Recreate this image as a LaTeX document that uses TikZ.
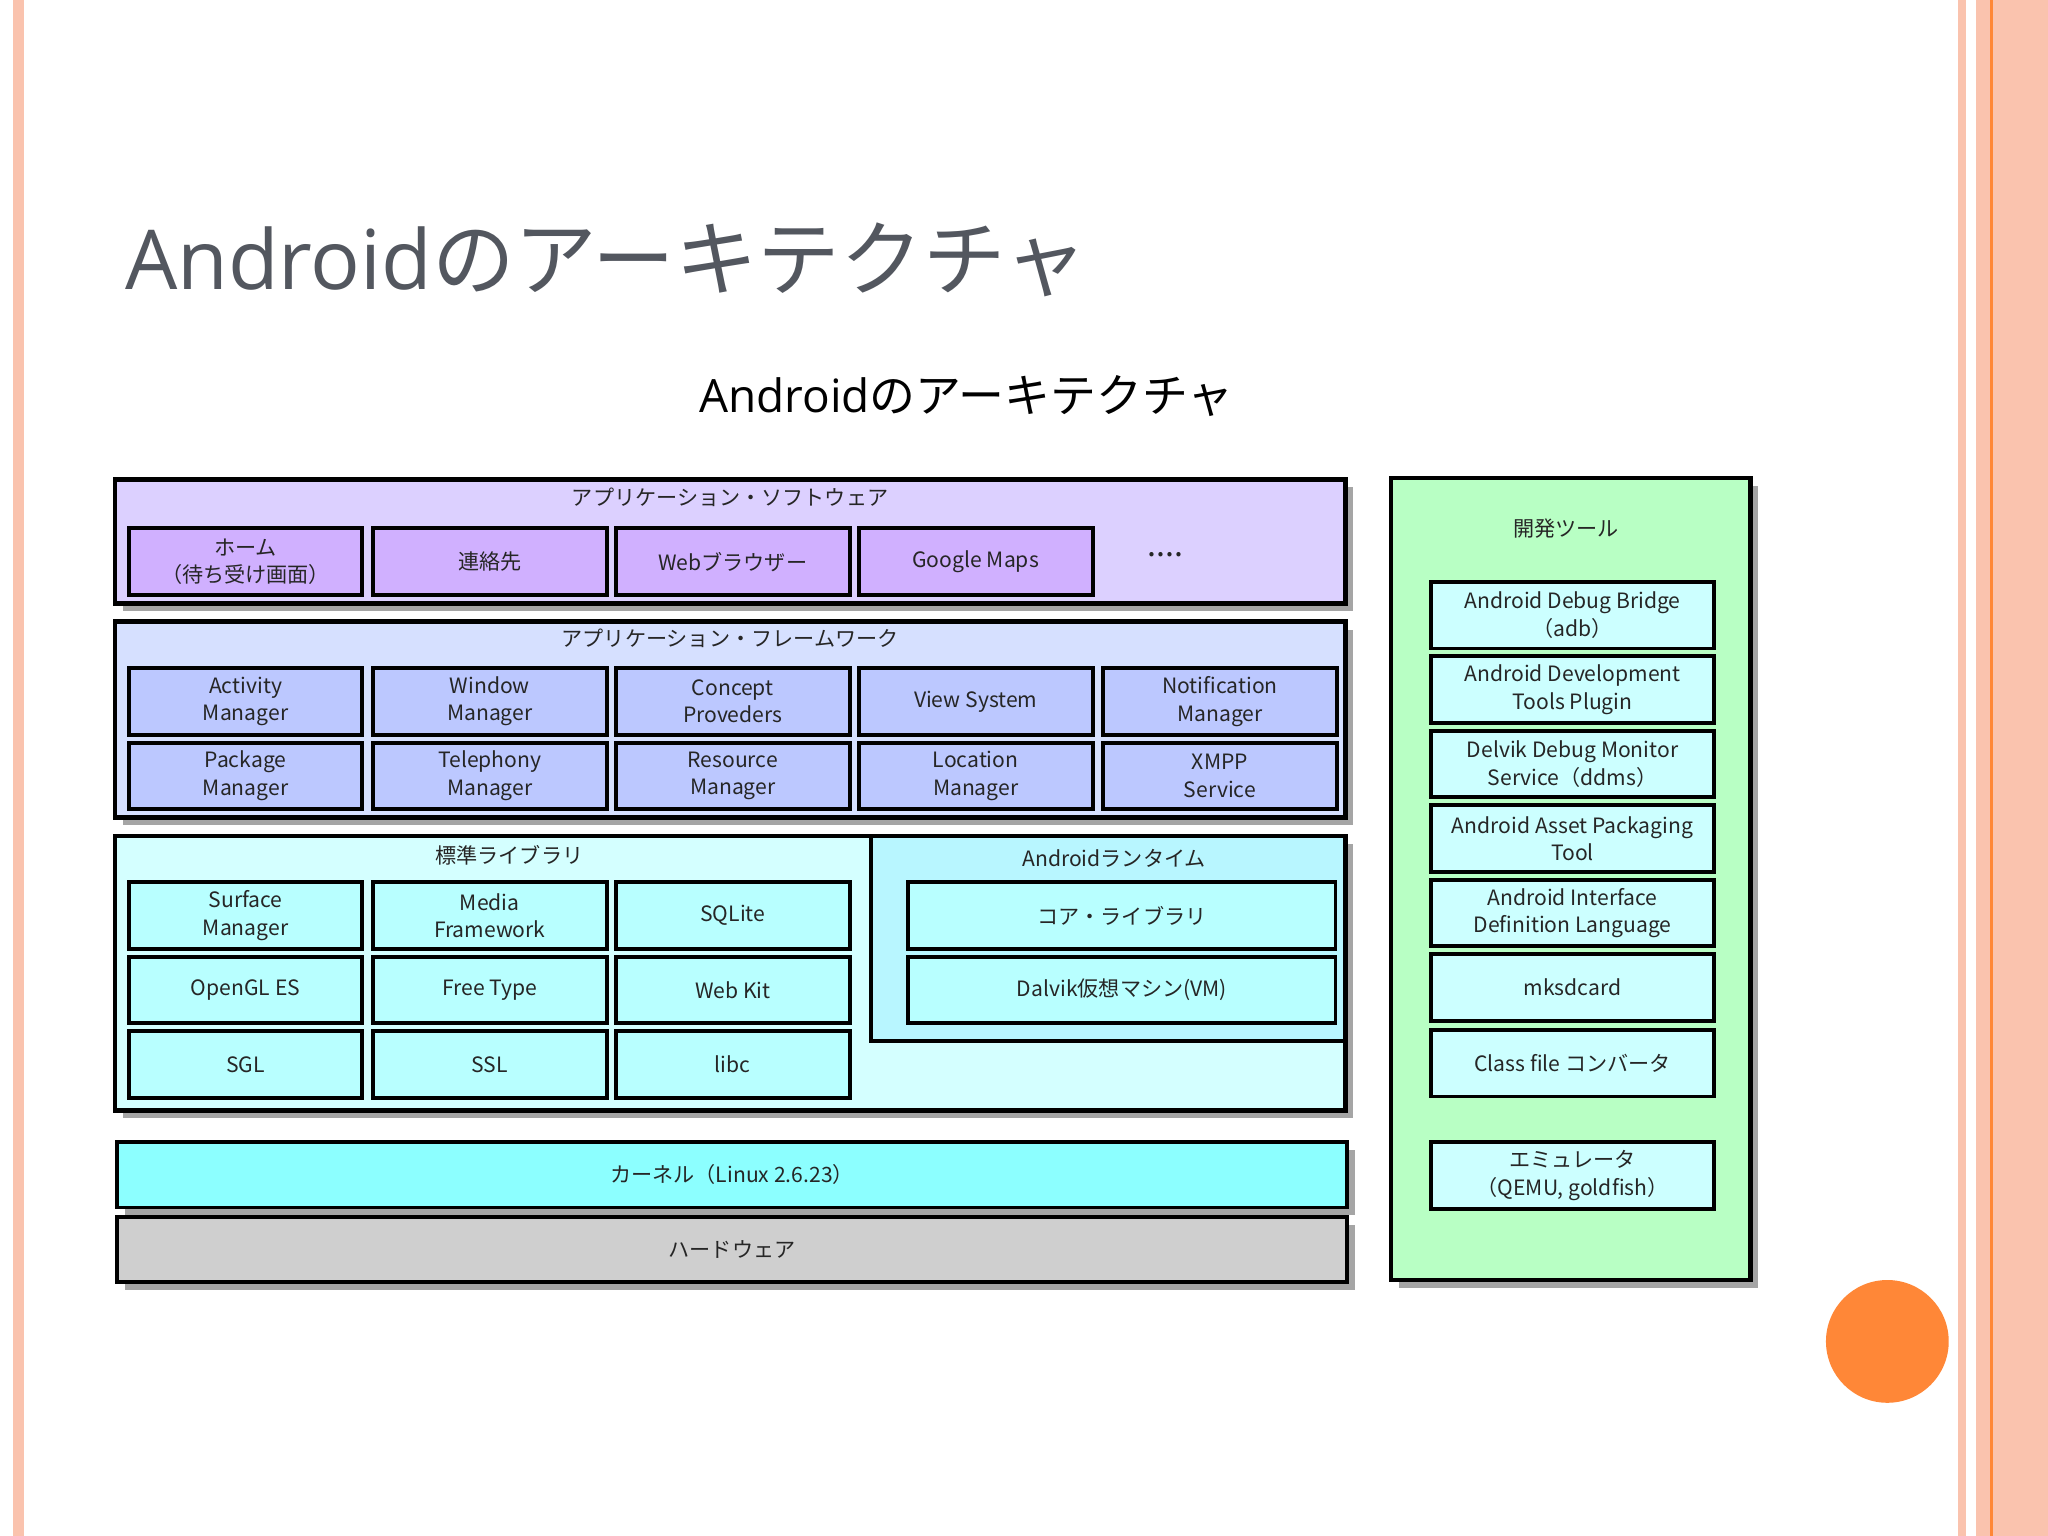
\documentclass[tikz,border=0pt]{standalone}
\usepackage{fontspec}
\setmainfont{Noto Sans CJK JP}
\newfontfamily\latinsans{Open Sans}
\usetikzlibrary{positioning,shadows}

\definecolor{stripe}{HTML}{FAC3AE}
\definecolor{dot}{HTML}{FF8737}
\definecolor{titlegray}{HTML}{53575F}
\definecolor{softlayer}{HTML}{DCD0FF}
\definecolor{softbox}{HTML}{D0B0FF}
\definecolor{framelayer}{HTML}{D6E0FF}
\definecolor{framebox}{HTML}{BCC8FF}
\definecolor{liblayer}{HTML}{D4FFFF}
\definecolor{runlayer}{HTML}{B8F6FF}
\definecolor{libbox}{HTML}{B8FFFF}
\definecolor{kernel}{HTML}{8CFFFF}
\definecolor{hardware}{HTML}{CFCFCF}
\definecolor{toollayer}{HTML}{B8FFC4}
\definecolor{toolbox}{HTML}{CCFFFF}

\tikzset{
    layer/.style = {draw = black, line width = 0.35mm, drop shadow = {shadow xshift = 0.6mm, shadow yshift = -0.6mm, opacity = 0.7}},
    part/.style  = {draw = black, line width = 0.3mm, inner sep = 0pt, anchor = north west},
    label/.style = {font = \fontsize{4.6}{6}\selectfont, align = center, text = black!85},
}

\begin{document}
\begin{tikzpicture}[x = .1mm, y = -.1mm]
    \useasboundingbox (0, 0) rectangle (1568, 1176);
    \fill [white] (0, 0) rectangle (1568, 1176);

    % slide frame
    \fill [stripe] (10, 0) rectangle (18, 1176);
    \fill [stripe] (1499, 0) rectangle (1505, 1176);
    \fill [stripe] (1513, 0) rectangle (1568, 1176);
    \draw [dot, line width = 0.25mm] (1525, 0) -- (1525, 1176);
    \fill [dot] (1445, 1027) circle (47);

    \node [anchor = base west, text = titlegray, font = \fontsize{18}{21}\selectfont, inner sep = 0pt] (title) at (95, 222) {{\latinsans Android}のアーキテクチャ};
    \node [font = \fontsize{10}{12}\selectfont, inner sep = 0pt] (subtitle) at (740, 303) {{\latinsans Android}のアーキテクチャ};

    % layers
    \draw [layer, fill = softlayer]  (88, 367)  rectangle (1030, 462);
    \draw [layer, fill = framelayer] (88, 476)  rectangle (1030, 626);
    \draw [layer, fill = liblayer]   (88, 640)  rectangle (1030, 850);
    \draw [line width = 0.3mm, fill = runlayer] (667, 640) rectangle (1030, 797);
    \draw [layer, fill = toollayer]  (1065, 366) rectangle (1340, 980);

    \node [label] (software)  at (559, 381) {アプリケーション・ソフトウェア};
    \node [label] (framework) at (559, 489) {アプリケーション・フレームワーク};
    \node [label] (library)   at (390, 655) {標準ライブラリ};
    \node [label] (runtime)   at (853, 657) {Androidランタイム};
    \node [label] (tools)     at (1199, 405) {開発ツール};

    % application software
    \foreach \x/\name in {97/home, 284/contacts, 470/browser, 656/maps}
        \node [part, fill = softbox, minimum width = 17.9mm, minimum height = 5.1mm] (\name) at (\x, 403) {};
    \foreach \name/\txt in {home/{ホーム\\（待ち受け画面）}, contacts/連絡先, browser/Webブラウザー, maps/Google Maps}
        \node [label] at (\name) {\txt};
    \node [label, font = \fontsize{7}{8}\selectfont] (more) at (892, 425) {....};

    % application framework
    \foreach \x/\name/\y in {97/activity/510, 284/window/510, 470/concept/510, 656/view/510, 843/notification/510,
                             97/package/567, 284/telephony/567, 470/resource/567, 656/location/567, 843/xmpp/567}
        \node [part, fill = framebox, minimum width = 17.9mm, minimum height = 5.1mm] (\name) at (\x, \y) {};
    \foreach \name/\txt in {activity/{Activity\\Manager}, window/{Window\\Manager}, concept/{Concept\\Proveders}, view/{View System}, notification/{Notification\\Manager},
                            package/{Package\\Manager}, telephony/{Telephony\\Manager}, resource/{Resource\\Manager}, location/{Location\\Manager}, xmpp/{XMPP\\Service}}
        \node [label] at (\name) {\txt};

    % libraries
    \foreach \x/\y/\name in {97/674/surface, 284/674/media, 470/674/sqlite, 97/731/opengl, 284/731/freetype, 470/731/webkit, 97/788/sgl, 284/788/ssl, 470/788/libc}
        \node [part, fill = libbox, minimum width = 17.9mm, minimum height = 5.1mm] (\name) at (\x, \y) {};
    \foreach \name/\txt in {surface/{Surface\\Manager}, media/{Media\\Framework}, sqlite/SQLite, opengl/OpenGL ES, freetype/Free Type, webkit/Web Kit, sgl/SGL, ssl/SSL, libc/libc}
        \node [label] at (\name) {\txt};

    % runtime
    \node [part, fill = libbox, minimum width = 32.7mm, minimum height = 5.1mm] (core)   at (694, 674) {};
    \node [part, fill = libbox, minimum width = 32.7mm, minimum height = 5.1mm] (dalvik) at (694, 731) {};
    \node [label] at (core)   {コア・ライブラリ};
    \node [label] at (dalvik) {Dalvik仮想マシン(VM)};

    % kernel and hardware
    \node [layer, part, fill = kernel,   minimum width = 94.2mm, minimum height = 5mm] (linux) at (88, 873) {};
    \node [layer, part, fill = hardware, minimum width = 94.2mm, minimum height = 5mm] (hw)    at (88, 930) {};
    \node [label] at (linux) {カーネル（Linux 2.6.23）};
    \node [label] at (hw)    {ハードウェア};

    % development tools
    \foreach \y/\name in {444/adb, 501/adt, 558/ddms, 615/aapt, 672/aidl, 729/mksdcard, 787/dx, 873/emulator}
        \node [part, fill = toolbox, minimum width = 21.7mm, minimum height = 5.1mm] (\name) at (1094, \y) {};
    \foreach \name/\txt in {adb/{Android Debug Bridge\\（adb）}, adt/{Android Development\\Tools Plugin}, ddms/{Delvik Debug Monitor\\Service（ddms）},
                            aapt/{Android Asset Packaging\\Tool}, aidl/{Android Interface\\Definition Language}, mksdcard/mksdcard,
                            dx/Class file コンバータ, emulator/{エミュレータ\\（QEMU, goldfish）}}
        \node [label] at (\name) {\txt};
\end{tikzpicture}
\end{document}
